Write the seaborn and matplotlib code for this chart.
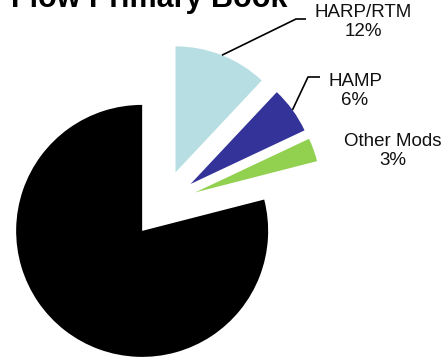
import numpy as np
import matplotlib
matplotlib.use("Agg")
import matplotlib.pyplot as plt
import seaborn as sns

# Portfolio share of the flow primary book
categories = ["HARP/RTM", "HAMP", "Other Mods", "Remaining"]
shares = [12, 6, 3, 79]
show_label = [True, True, True, False]

sns.set_theme(style="white")
plt.rcParams["font.family"] = ["Liberation Sans", "DejaVu Sans"]

colors = ["#B7DFE3", "#333399", "#92D050", "#000000"]

W, H = 442, 357
fig = plt.figure(figsize=(W / 100, H / 100), dpi=100)
ax = fig.add_axes([0, 0, 1, 1])

center = (163, 153)
radius = 126
# matplotlib offsets exploded wedges in data units, so scale by the radius
explode = [0.27 * radius] * len(shares)

wedges, _ = ax.pie(
    shares,
    colors=colors,
    explode=explode,
    startangle=90,
    counterclock=False,
    radius=radius,
    center=center,
    wedgeprops=dict(linewidth=0),
    frame=True,
)
ax.set_xlim(0, W)
ax.set_ylim(0, H)
ax.set_aspect("equal")
ax.axis("off")

# label placement (text centre) and leader-line elbow for each slice
label_pos = {"HARP/RTM": (363, 335), "HAMP": (355, 266), "Other Mods": (393, 206)}
elbows = {"HARP/RTM": [(296, 338), (306, 338)], "HAMP": [(308, 280), (320, 280)]}

for w, name, val, show in zip(wedges, categories, shares, show_label):
    if not show:
        continue
    mid = np.deg2rad((w.theta1 + w.theta2) / 2)
    cx, cy = w.center
    edge = (cx + w.r * np.cos(mid), cy + w.r * np.sin(mid))
    if name in elbows:
        pts = [edge] + elbows[name]
        ax.plot([p[0] for p in pts], [p[1] for p in pts], color="black", lw=1.2,
                solid_capstyle="butt")
    tx, ty = label_pos[name]
    ax.text(tx, ty, f"{name}\n{val}%", ha="center", va="center", fontsize=13.5,
            color="#111111", linespacing=1.1)

fig.text(149 / W, 1 - 7.5 / H, "Flow Primary Book", ha="center", va="baseline",
         fontsize=22, fontweight="bold", color="black")

fig.savefig("out.png", dpi=100)
